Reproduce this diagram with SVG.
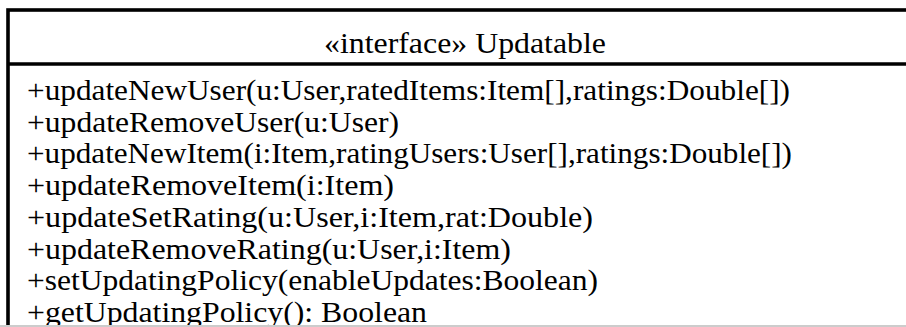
<svg xmlns="http://www.w3.org/2000/svg" width="906" height="327" viewBox="0 0 906 327">
  <style>
    .frame { fill: #ffffff; stroke: #000000; stroke-width: 3.6; }
    .rule { stroke: #000000; stroke-width: 3.6; }
    .lbl { font-family: "Liberation Serif", "Times New Roman", serif; font-size: 29px; fill: #000000; }
  </style>
  <rect x="0" y="0" width="906" height="327" fill="#ffffff"/>
  <!-- UML interface class box (extends past the right and bottom edges) -->
  <g id="updatable">
    <rect class="frame" x="8" y="10" width="914" height="340"/>
    <line class="rule" x1="8" y1="64" x2="922" y2="64"/>
    <text class="lbl" x="324" y="53" textLength="282" lengthAdjust="spacingAndGlyphs">«interface» Updatable</text>
    <text class="lbl" x="27" y="100" textLength="763" lengthAdjust="spacingAndGlyphs">+updateNewUser(u:User,ratedItems:Item[],ratings:Double[])</text>
    <text class="lbl" x="27" y="131.7" textLength="372" lengthAdjust="spacingAndGlyphs">+updateRemoveUser(u:User)</text>
    <text class="lbl" x="27" y="163.4" textLength="765" lengthAdjust="spacingAndGlyphs">+updateNewItem(i:Item,ratingUsers:User[],ratings:Double[])</text>
    <text class="lbl" x="27" y="195.1" textLength="367" lengthAdjust="spacingAndGlyphs">+updateRemoveItem(i:Item)</text>
    <text class="lbl" x="27" y="226.9" textLength="566" lengthAdjust="spacingAndGlyphs">+updateSetRating(u:User,i:Item,rat:Double)</text>
    <text class="lbl" x="27" y="258.6" textLength="484" lengthAdjust="spacingAndGlyphs">+updateRemoveRating(u:User,i:Item)</text>
    <text class="lbl" x="27" y="290.3" textLength="571" lengthAdjust="spacingAndGlyphs">+setUpdatingPolicy(enableUpdates:Boolean)</text>
    <text class="lbl" x="27" y="322" textLength="400" lengthAdjust="spacingAndGlyphs">+getUpdatingPolicy(): Boolean</text>
  </g>
  <g id="connectors"/>
  <!-- thin grey strip along the bottom edge -->
  <rect x="0" y="325" width="906" height="2" fill="#cccccc"/>
</svg>
